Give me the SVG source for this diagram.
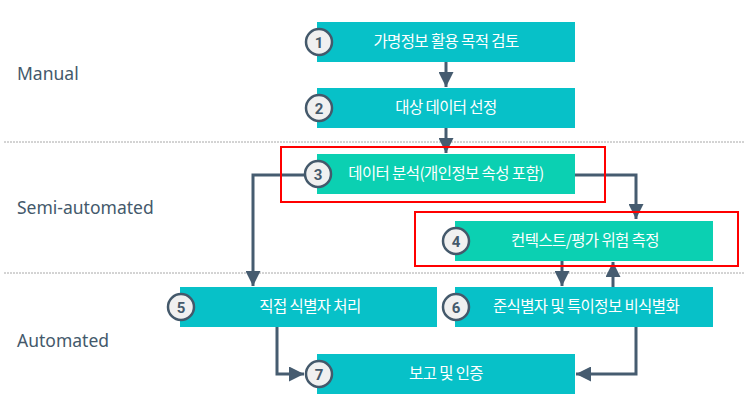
<svg xmlns="http://www.w3.org/2000/svg" width="744" height="402" viewBox="0 0 744 402">
<style>
.lane{font-family:"Noto Sans","Liberation Sans",sans-serif;font-size:17.5px;fill:#44596b}
.sep{stroke:#a8a8a8;stroke-width:1;stroke-dasharray:2 1;fill:none}
.b1{fill:#07c1c8}
.b2{fill:#0bd0b2}
.lbl{font-family:"Noto Sans CJK KR",sans-serif;font-size:15.5px;fill:#ffffff;text-anchor:middle;letter-spacing:-0.6px}
.num{fill:#f0f0f0;stroke:#44596b;stroke-width:2.5}
.nt{font-family:"Roboto","Liberation Sans",sans-serif;font-weight:bold;font-size:15px;fill:#44596b;text-anchor:middle}
.hl{fill:none;stroke:#ff0000;stroke-width:2}
.cn{fill:none;stroke:#465c70;stroke-width:3}
</style>
<defs>
<marker id="ah" markerWidth="5" markerHeight="5" viewBox="0 0 10 10" refX="10" refY="5" orient="auto" markerUnits="strokeWidth">
<path d="M0,0 L10,5 L0,10 z" fill="#465c70"/>
</marker>
</defs>
<g id="lanes">
<text class="lane" x="17" y="80">Manual</text>
<text class="lane" x="17" y="214">Semi-automated</text>
<text class="lane" x="17" y="347">Automated</text>
<line class="sep" x1="4" y1="142" x2="744" y2="142"/>
<line class="sep" x1="4" y1="273" x2="744" y2="273"/>
</g>
<g id="connectors">
<line class="cn" x1="446" y1="62" x2="446" y2="87" marker-end="url(#ah)"/>
<line class="cn" x1="446" y1="128" x2="446" y2="153" marker-end="url(#ah)"/>
<polyline class="cn" points="305,175 253,175 253,286" marker-end="url(#ah)"/>
<polyline class="cn" points="575,175 636,175 636,219" marker-end="url(#ah)"/>
<line class="cn" x1="562" y1="261" x2="562" y2="286" marker-end="url(#ah)"/>
<line class="cn" x1="613" y1="287" x2="613" y2="262" marker-end="url(#ah)"/>
<polyline class="cn" points="277,327 277,374 304,374" marker-end="url(#ah)"/>
<polyline class="cn" points="636,327 636,374 576,374" marker-end="url(#ah)"/>
</g>
<g id="node1">
<rect class="b1" x="317" y="22" width="258" height="40"/>
<text class="lbl" x="446" y="47">가명정보 활용 목적 검토</text>
<circle class="num" cx="319" cy="42" r="13"/>
<text class="nt" x="319" y="47.5">1</text>
</g>
<g id="node2">
<rect class="b1" x="317" y="88" width="258" height="40"/>
<text class="lbl" x="446" y="113">대상 데이터 선정</text>
<circle class="num" cx="319" cy="108" r="13"/>
<text class="nt" x="319" y="113.5">2</text>
</g>
<g id="node3">
<rect class="b2" x="317" y="154" width="258" height="40"/>
<text class="lbl" x="446" y="179">데이터 분석(개인정보 속성 포함)</text>
<circle class="num" cx="318" cy="174" r="13"/>
<text class="nt" x="318" y="179.5">3</text>
<rect class="hl" x="281" y="147" width="324" height="55"/>
</g>
<g id="node4">
<rect class="b2" x="455" y="221" width="258" height="40"/>
<text class="lbl" x="585" y="246">컨텍스트/평가 위험 측정</text>
<circle class="num" cx="456" cy="241" r="13"/>
<text class="nt" x="456" y="246.5">4</text>
<rect class="hl" x="415" y="212" width="323" height="54"/>
</g>
<g id="node5">
<rect class="b1" x="180" y="287" width="257" height="40"/>
<text class="lbl" x="310" y="312">직접 식별자 처리</text>
<circle class="num" cx="181" cy="307" r="13"/>
<text class="nt" x="181" y="312.5">5</text>
</g>
<g id="node6">
<rect class="b1" x="455" y="287" width="258" height="40"/>
<text class="lbl" x="586" y="312">준식별자 및 특이정보 비식별화</text>
<circle class="num" cx="456" cy="307" r="13"/>
<text class="nt" x="456" y="312.5">6</text>
</g>
<g id="node7">
<rect class="b1" x="317" y="354" width="258" height="40"/>
<text class="lbl" x="446" y="379">보고 및 인증</text>
<circle class="num" cx="319" cy="374" r="13"/>
<text class="nt" x="319" y="379.5">7</text>
</g>
</svg>
